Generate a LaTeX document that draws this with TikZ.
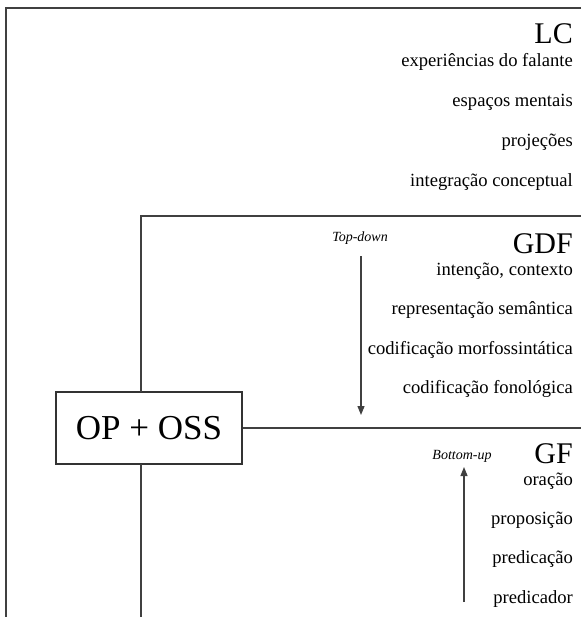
\documentclass[tikz,border=0pt]{standalone}
\usepackage{fontspec}
\setmainfont{Liberation Serif}
\usetikzlibrary{arrows.meta}
\tikzset{
  frameline/.style={draw=black!75, line width=1.4pt},
  head/.style={anchor=base east, inner sep=0pt, font=\fontsize{30}{30}\selectfont},
  item/.style={anchor=mid east, inner sep=0pt, font=\fontsize{18.6}{18.6}\selectfont},
  dirlabel/.style={anchor=center, inner sep=0pt, font=\fontsize{14}{14}\selectfont\itshape},
  flow/.style={draw=black!75, line width=1.2pt, -{Triangle[length=9pt,width=7pt]}},
  opbox/.style={draw=black!80, line width=1.4pt, minimum width=186pt, minimum height=72pt, inner sep=0pt, font=\fontsize{35}{35}\selectfont}
}
\begin{document}
\begin{tikzpicture}[x=1pt,y=-1pt]
\useasboundingbox (0,0) rectangle (581,617);
% outer frame (LC)
\coordinate (lcTR) at (581,8);
\coordinate (lcTL) at (6,8);
\coordinate (lcBL) at (6,617);
\draw[frameline] (lcTR) -- (lcTL) -- (lcBL);
% OP + OSS box
\node[opbox] (op) at (149,428) {OP + OSS};
% inner frame (GDF)
\coordinate (gdfBL) at (141,392);
\coordinate (gdfTL) at (141,216);
\coordinate (gdfTR) at (581,216);
\draw[frameline] (gdfBL) -- (gdfTL) -- (gdfTR);
% GF separator
\coordinate (gfR) at (581,428);
\draw[frameline] (op.east) -- (gfR);
\coordinate (gfTop) at (141,464);
\coordinate (gfBot) at (141,617);
\draw[frameline] (gfTop) -- (gfBot);
% LC texts
\node[head] (lc) at (573,44) {LC};
\node[item] (lc1) at (573,64) {experiências do falante};
\node[item] (lc2) at (573,104) {espaços mentais};
\node[item] (lc3) at (573,144) {projeções};
\node[item] (lc4) at (573,184) {integração conceptual};
% GDF texts
\node[head] (gdf) at (573,254) {GDF};
\node[item] (g1) at (573,273) {intenção, contexto};
\node[item] (g2) at (573,312) {representação semântica};
\node[item] (g3) at (573,352) {codificação morfossintática};
\node[item] (g4) at (573,391) {codificação fonológica};
\node[dirlabel] (td) at (360,238) {Top-down};
\coordinate (tdA) at (361,256);
\coordinate (tdB) at (361,415);
\draw[flow] (tdA) -- (tdB);
% GF texts
\node[head] (gf) at (573,463) {GF};
\node[item] (f1) at (573,483) {oração};
\node[item] (f2) at (573,522) {proposição};
\node[item] (f3) at (573,561) {predicação};
\node[item] (f4) at (573,601) {predicador};
\node[dirlabel] (bu) at (462,456) {Bottom-up};
\coordinate (buA) at (464,602);
\coordinate (buB) at (464,467);
\draw[flow] (buA) -- (buB);
\end{tikzpicture}
\end{document}
